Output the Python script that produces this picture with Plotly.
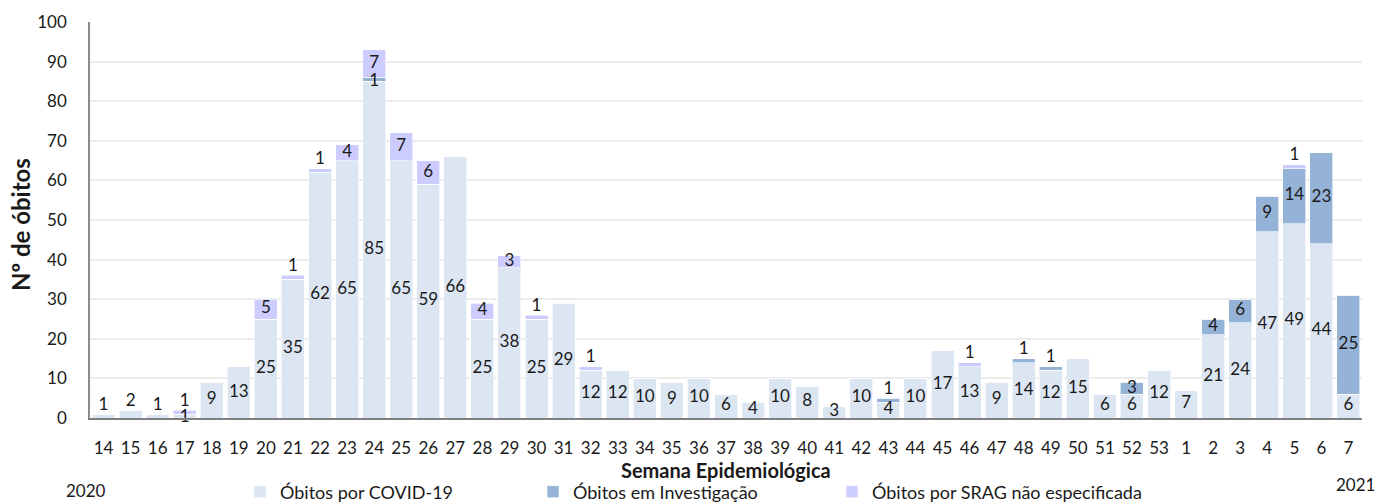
import plotly.graph_objects as go

weeks = [str(w) for w in range(14, 54)] + [str(w) for w in range(1, 8)]

covid = [1, 2, 1, 1, 9, 13, 25, 35, 62, 65, 85, 65, 59, 66, 25, 38, 25, 29, 12, 12,
         10, 9, 10, 6, 4, 10, 8, 3, 10, 4, 10, 17, 13, 9, 14, 12, 15, 6, 6, 12,
         7, 21, 24, 47, 49, 44, 6]
invest = [0, 0, 0, 0, 0, 0, 0, 0, 0, 0, 1, 0, 0, 0, 0, 0, 0, 0, 0, 0,
          0, 0, 0, 0, 0, 0, 0, 0, 0, 1, 0, 0, 0, 0, 1, 1, 0, 0, 3, 0,
          0, 4, 6, 9, 14, 23, 25]
srag = [0, 0, 0, 1, 0, 0, 5, 1, 1, 4, 7, 7, 6, 0, 4, 3, 1, 0, 1, 0,
        0, 0, 0, 0, 0, 0, 0, 0, 0, 0, 0, 0, 1, 0, 0, 0, 0, 0, 0, 0,
        0, 0, 0, 0, 1, 0, 0]

names = ["Óbitos por COVID-19", "Óbitos em Investigação", "Óbitos por SRAG não especificada"]
colors = ["#dce6f2", "#95b3d7", "#ccccff"]
FONT = "Lato"
W, H = 1378, 502
L, R, T, B = 90, 16, 22, 84

ph = H - T - B
def ypaper(px):
    return (H - B - px) / ph
def xpaper(px):
    return (px - L) / (W - L - R)

fig = go.Figure()
series = [covid, invest, srag]
legend_ids = ["legend", "legend2", "legend3"]
legend_x = [240, 533, 832]
for vals, name, col, lid in zip(series, names, colors, legend_ids):
    fig.add_trace(go.Bar(
        x=weeks, y=vals, name=name, legend=lid,
        marker=dict(color=col, line=dict(color="rgba(255,255,255,0.6)", width=1)),
        hoverinfo="skip",
    ))

# data labels
totals = [a + b + c for a, b, c in zip(covid, invest, srag)]
for si, vals in enumerate(series):
    xs, ys, ts, pos = [], [], [], []
    for i, v in enumerate(vals):
        if v == 0:
            continue
        base = sum(series[k][i] for k in range(si))
        top = base + v
        is_top = abs(top - totals[i]) < 1e-9
        xs.append(weeks[i])
        ts.append(str(v))
        if v <= 2 and is_top:
            ys.append(top)
            pos.append("top center")
        elif v <= 2:
            ys.append(base)
            pos.append("middle center")
        else:
            ys.append(base + v / 2)
            pos.append("middle center")
    fig.add_trace(go.Scatter(
        x=xs, y=ys, text=ts, mode="text", textposition=pos,
        textfont=dict(family=FONT, size=17, color="#1a1a1a"),
        showlegend=False, hoverinfo="skip", cliponaxis=False,
    ))

legend_style = dict(orientation="h", y=ypaper(492), xanchor="left", yanchor="middle",
                    font=dict(family=FONT, size=18, color="#1a1a1a"),
                    itemwidth=30, bgcolor="rgba(0,0,0,0)")

fig.update_layout(
    width=W, height=H,
    margin=dict(l=L, r=R, t=T, b=B, autoexpand=False),
    barmode="stack", bargap=0.15,
    plot_bgcolor="white", paper_bgcolor="white",
    font=dict(family=FONT, size=17, color="#1a1a1a"),
    legend=dict(x=xpaper(legend_x[0]), **legend_style),
    legend2=dict(x=xpaper(legend_x[1]), **legend_style),
    legend3=dict(x=xpaper(legend_x[2]), **legend_style),
    xaxis=dict(type="category", range=[-0.5, len(weeks) - 0.5], showgrid=False,
               showline=True, linecolor="#7f7f7f",
               linewidth=2, ticks="", ticklabelstandoff=14,
               tickfont=dict(family=FONT, size=17)),
    yaxis=dict(range=[0, 100], dtick=10, showgrid=True, gridcolor="#ececec", gridwidth=1.5,
               showline=True, linecolor="#8c8c8c", linewidth=1.5, ticks="",
               ticklabelstandoff=18, zeroline=False,
               tickfont=dict(family=FONT, size=17)),
)

fig.add_annotation(text="<b>Nº de óbitos</b>", xref="paper", yref="paper",
                   x=xpaper(20), y=ypaper(225), showarrow=False, textangle=-90,
                   xanchor="center", yanchor="middle",
                   font=dict(family=FONT, size=24))
fig.add_annotation(text="<b>Semana Epidemiológica</b>", xref="paper", yref="paper",
                   x=0.5, y=ypaper(470), showarrow=False, yanchor="middle", xanchor="center",
                   font=dict(family=FONT, size=20))
fig.add_annotation(text="2020", xref="paper", yref="paper", x=xpaper(86), y=ypaper(491),
                   showarrow=False, yanchor="middle", xanchor="center",
                   font=dict(family=FONT, size=17))
fig.add_annotation(text="2021", xref="paper", yref="paper", x=xpaper(1355), y=ypaper(484),
                   showarrow=False, yanchor="middle", xanchor="center",
                   font=dict(family=FONT, size=17))

fig.write_html("out.html", config={"displayModeBar": False},
               post_script="document.body.style.margin='0';document.body.style.overflow='hidden';")
